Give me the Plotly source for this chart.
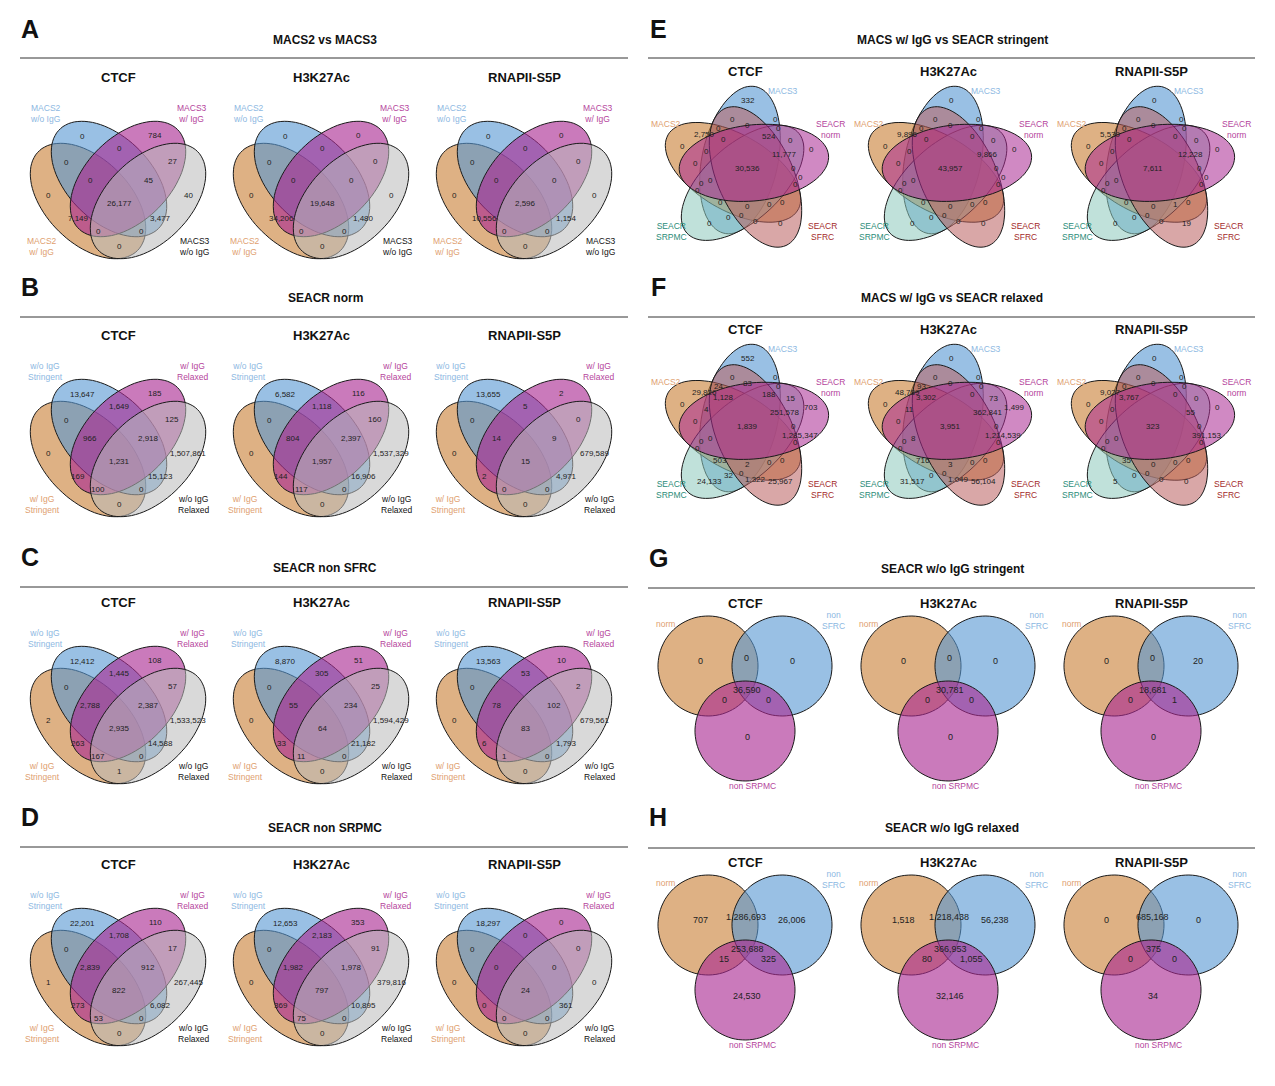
import numpy as np
import plotly.graph_objects as go

W, H = 1275, 1086
OFF = 8  # default page body margin
FONT = "Liberation Sans, Arial, sans-serif"
COLS = ["CTCF", "H3K27Ac", "RNAPII-S5P"]

# ---------------- data ----------------
# 4-set order: b, m, o&b, b&m, m&g, o, g, o&b&m, b&m&g, all, o&m, b&g, o&m&g, o&b&g, o&g
A_VALUES = [[0, 784, 0, 0, 27, 0, 40, 0, 45, 26177, 7149, 3477, 0, 0, 0],
            [0, 0, 0, 0, 0, 0, 0, 0, 0, 19648, 34206, 1480, 0, 0, 0],
            [0, 0, 0, 0, 0, 0, 0, 0, 0, 2596, 10556, 1154, 0, 0, 0]]
B_VALUES = [[13647, 185, 0, 1649, 125, 0, 1507861, 966, 2918, 1231, 169, 15123, 100, 0, 0],
            [6582, 116, 0, 1118, 160, 0, 1537329, 804, 2397, 1957, 144, 16906, 117, 0, 0],
            [13655, 2, 0, 5, 0, 0, 679589, 14, 9, 15, 2, 4971, 0, 0, 0]]
C_VALUES = [[12412, 108, 0, 1445, 57, 2, 1533523, 2788, 2387, 2935, 263, 14588, 167, 0, 1],
            [8870, 51, 0, 305, 25, 0, 1594429, 55, 234, 64, 33, 21182, 11, 0, 0],
            [13563, 10, 0, 53, 2, 0, 679561, 78, 102, 83, 6, 1793, 1, 0, 0]]
D_VALUES = [[22201, 110, 0, 1708, 17, 1, 267445, 2839, 912, 822, 273, 6082, 53, 0, 0],
            [12653, 353, 0, 2183, 91, 0, 379816, 1982, 1978, 797, 369, 10895, 75, 0, 0],
            [18297, 0, 0, 0, 0, 0, 0, 0, 0, 24, 0, 361, 0, 0, 0]]
QUAD_TITLES = ["MACS2 vs MACS3", "SEACR norm", "SEACR non SFRC", "SEACR non SRPMC"]
QUAD_SETS_A = ["MACS2<br>w/o IgG", "MACS3<br>w/ IgG", "MACS2<br>w/ IgG", "MACS3<br>w/o IgG"]
QUAD_SETS_B = ["w/o IgG<br>Stringent", "w/ IgG<br>Relaxed", "w/ IgG<br>Stringent", "w/o IgG<br>Relaxed"]

def five(d):
    v = [0] * 31
    for k, x in d.items():
        v[k] = x
    return v

E_VALUES = [five({0: 332, 3: 2750, 7: 524, 12: 11777, 15: 30536}),
            five({3: 9896, 12: 9866, 15: 43957}),
            five({3: 5539, 12: 12228, 15: 7611, 24: 1, 30: 19})]
F_VALUES = [five({0: 552, 3: 29826, 4: 24, 5: 83, 7: 188, 8: 1128, 9: 15, 11: 703, 12: 251578,
                  13: 4, 15: 1839, 18: 1285347, 22: 503, 23: 2, 26: 32, 28: 1322, 29: 24133, 30: 25967}),
            five({3: 48789, 4: 93, 8: 3302, 9: 73, 11: 1499, 12: 362841, 13: 11, 15: 3951,
                  17: 8, 18: 1214539, 22: 716, 23: 3, 28: 1049, 29: 31517, 30: 56104}),
            five({3: 9027, 8: 3767, 12: 55, 15: 323, 18: 391153, 22: 35, 29: 5})]
FIVE_TITLES = ["MACS w/ IgG vs SEACR stringent", "MACS w/ IgG vs SEACR relaxed"]
FIVE_SETS = ["MACS3", "SEACR<br>norm", "SEACR<br>SFRC", "SEACR<br>SRPMC", "MACS2"]

# 3-set order: o, o&b, b, all, o&m, b&m, m
G_VALUES = [[0, 0, 0, 36590, 0, 0, 0], [0, 0, 0, 30781, 0, 0, 0], [0, 0, 20, 18681, 0, 1, 0]]
H_VALUES = [[707, 1286693, 26006, 253688, 15, 325, 24530],
            [1518, 1218438, 56238, 366953, 80, 1055, 32146],
            [0, 685168, 0, 375, 0, 0, 34]]
TRI_TITLES = ["SEACR w/o IgG stringent", "SEACR w/o IgG relaxed"]
TRI_SETS = ["norm", "non<br>SFRC", "non SRPMC"]

# ---------------- style / layout ----------------
C_OR, C_BL, C_MG, C_GR = "rgba(200,125,50,0.6)", "rgba(85,150,210,0.6)", "rgba(170,40,145,0.62)", "rgba(185,185,185,0.55)"
C_TE, C_RE, C_MG5 = "rgba(140,200,188,0.55)", "rgba(185,95,95,0.55)", "rgba(170,40,145,0.55)"
T_OR, T_BL, T_MG, T_TE, T_RE = "#E0A070", "#8DB8E2", "#B5449C", "#2B8C78", "#A32A2A"

shapes, ann = [], []

def ellipse(cx, cy, a, b, ang):
    t = np.linspace(0, 2 * np.pi, 90)
    c, s = np.cos(np.radians(ang)), np.sin(np.radians(ang))
    x = cx + a * np.cos(t) * c - b * np.sin(t) * s
    y = cy + a * np.cos(t) * s + b * np.sin(t) * c
    return "M " + " L ".join(f"{xi:.1f},{yi:.1f}" for xi, yi in zip(x, y)) + " Z"

def add_shape(path, fill):
    shapes.append(dict(type="path", path=path, xref="x", yref="y", fillcolor=fill,
                       line=dict(color="#1a1a1a", width=1), layer="below"))

def text(x, y, s, size=8, color="#222", bold=False):
    ann.append(dict(x=x, y=y, xref="x", yref="y", text=f"<b>{s}</b>" if bold else s, showarrow=False,
                    font=dict(family=FONT, size=size, color=color), xanchor="center", yanchor="middle"))

def fmt(v):
    return f"{v:,}"

QUAD_POS = [(-36, 59), (37, 58), (-52, 85), (1, 71), (54, 84), (-70, 118), (70, 118), (-28, 103),
            (30, 103), (1, 126), (-40, 141), (42, 141), (-20, 154), (23, 154), (1, 169)]
QUAD_ELL = [((-30, 124), 45, C_OR), ((-9, 102), 45, C_BL), ((10, 102), -45, C_MG), ((30, 124), -45, C_GR)]
QUAD_LAB = [(-73, 36, T_BL), (74, 36, T_MG), (-76, 169, T_OR), (76, 169, "#111")]

def quad(ox, oy, vals, labels):
    for (dx, dy), ang, col in QUAD_ELL:
        add_shape(ellipse(ox + dx, oy + dy, 70, 42, ang), col)
    for (dx, dy), v in zip(QUAD_POS, vals):
        text(ox + dx, oy + dy, fmt(v))
    for (dx, dy, col), lab in zip(QUAD_LAB, labels):
        text(ox + dx, oy + dy, lab, size=8.5, color=col)

FIVE_POS = [(3, 29), (-13, 48), (30, 48), (-41, 63), (-27, 57), (2, 54), (33, 57), (24, 65), (-22, 68),
            (45, 69), (-63, 75), (66, 78), (39, 83), (-39, 80), (-50, 92), (2, 97), (48, 97), (-35, 109),
            (55, 106), (-44, 112), (50, 113), (-48, 119), (-25, 131), (2, 135), (24, 133), (37, 131),
            (-17, 146), (-4, 144), (10, 150), (-36, 152), (35, 152)]
FIVE_COLS = [C_BL, C_OR, C_TE, C_RE, C_MG5]
FIVE_K = [0, 4, 3, 2, 1]
FIVE_LAB = [(38, 20, T_BL), (85, 58, T_MG), (77, 160, T_RE), (-74, 160, T_TE), (-79, 53, T_OR)]

def quint(ox, oy, vals):
    cx, cy = ox, oy + 100
    for k, col in zip(FIVE_K, FIVE_COLS):
        th = np.radians(72 * k)
        dx, dy = -5, -11
        rx = cx + dx * np.cos(th) - dy * np.sin(th)
        ry = cy + dx * np.sin(th) + dy * np.cos(th)
        add_shape(ellipse(rx, ry, 75, 38, -78 + 72 * k), col)
    for (dx, dy), v in zip(FIVE_POS, vals):
        text(ox + dx, oy + dy, fmt(v))
    for (dx, dy, col), lab in zip(FIVE_LAB, FIVE_SETS):
        text(ox + dx, oy + dy, lab, size=8.5, color=col)

TRI_POS = [(-45, 58), (1, 55), (47, 58), (2, 87), (-21, 97), (23, 97), (2, 134)]
TRI_CIR = [((-37, 63), C_OR), ((37, 63), C_BL), ((0, 128), C_MG)]
TRI_LAB = [(-80, 21, T_OR), (88, 17, T_BL), (7, 183, T_MG)]

def tri(ox, oy, vals):
    for (dx, dy), col in TRI_CIR:
        add_shape(ellipse(ox + dx, oy + dy, 50, 50, 0), col)
    for (dx, dy), v in zip(TRI_POS, vals):
        text(ox + dx, oy + dy, fmt(v), size=9)
    for (dx, dy, col), lab in zip(TRI_LAB, TRI_SETS):
        text(ox + dx, oy + dy, lab, size=8.5, color=col)

# left column
LEFT_SUB_Y = [77, 335, 602, 864]
LEFT_TITLE_Y = [40, 298, 568, 828]
LEFT_LINE_Y = [58, 317, 587, 847]
LETTERS_L = ["A", "B", "C", "D"]
ALLQ = [A_VALUES, B_VALUES, C_VALUES, D_VALUES]
for i in range(4):
    text(30, LEFT_TITLE_Y[i] - 11, LETTERS_L[i], size=25, color="#111", bold=True)
    text(325, LEFT_TITLE_Y[i], QUAD_TITLES[i], size=12, color="#111", bold=True)
    shapes.append(dict(type="line", x0=20, x1=628, y0=LEFT_LINE_Y[i], y1=LEFT_LINE_Y[i], xref="x", yref="y",
                       line=dict(color="#333", width=1)))
    for j in range(3):
        ox, oy = 118 + 203 * j, LEFT_SUB_Y[i]
        text(ox, oy, COLS[j], size=13, color="#111", bold=True)
        quad(ox, oy, ALLQ[i][j], QUAD_SETS_A if i == 0 else QUAD_SETS_B)

# right column
RIGHT_SUB_Y = [71, 329, 603, 862]
RIGHT_TITLE_Y = [40, 298, 569, 828]
RIGHT_LINE_Y = [58, 317, 588, 848]
LETTERS_R = ["E", "F", "G", "H"]
RTITLES = FIVE_TITLES + TRI_TITLES
for i in range(4):
    text(658, RIGHT_TITLE_Y[i] - 11, LETTERS_R[i], size=25, color="#111", bold=True)
    text(952, RIGHT_TITLE_Y[i], RTITLES[i], size=12, color="#111", bold=True)
    shapes.append(dict(type="line", x0=648, x1=1255, y0=RIGHT_LINE_Y[i], y1=RIGHT_LINE_Y[i], xref="x", yref="y",
                       line=dict(color="#333", width=1)))
    for j in range(3):
        ox, oy = 745 + 203 * j, RIGHT_SUB_Y[i]
        text(ox, oy, COLS[j], size=13, color="#111", bold=True)
        if i == 0:
            quint(ox, oy, E_VALUES[j])
        elif i == 1:
            quint(ox, oy, F_VALUES[j])
        elif i == 2:
            tri(ox, oy, G_VALUES[j])
        else:
            tri(ox, oy, H_VALUES[j])

fig = go.Figure()
fig.update_layout(width=W - OFF, height=H - OFF, margin=dict(l=0, r=0, t=0, b=0), plot_bgcolor="white",
                  paper_bgcolor="white", shapes=shapes, annotations=ann, showlegend=False,
                  xaxis=dict(range=[OFF, W], visible=False, fixedrange=True),
                  yaxis=dict(range=[H, OFF], visible=False, fixedrange=True))
fig.write_html("out.html", config={"displayModeBar": False})
